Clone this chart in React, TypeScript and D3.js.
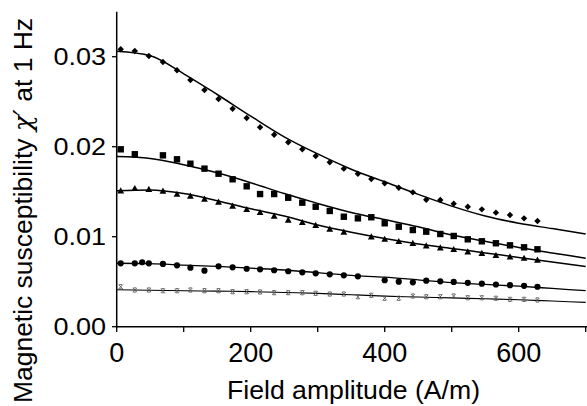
import React from "react";
import * as d3 from "d3";

// Field amplitudes (A/m) of measured points
const fields = [6, 27, 48, 69, 90, 110, 131, 152, 173, 194, 214, 235, 256, 277, 297, 318, 339, 360, 380, 400, 421, 442, 462, 483, 503, 524, 545, 566, 587, 608, 628];
const circleFields = [6, 27, 38, 48, 69, 90, 110, 131, 152, 173, 194, 214, 235, 256, 277, 297, 318, 339, 360, 400, 421, 442, 462, 483, 503, 524, 545, 566, 587, 608, 628];

const diamondVals = [0.03082, 0.03063, 0.03008, 0.02941, 0.02849, 0.02741, 0.0263, 0.0253, 0.02422, 0.02319, 0.02216, 0.02133, 0.02049, 0.01971, 0.01897, 0.01827, 0.01756, 0.017, 0.01641, 0.01593, 0.01544, 0.01493, 0.01411, 0.01408, 0.01367, 0.01333, 0.01304, 0.01267, 0.01241, 0.01204, 0.01174];
const squareVals = [0.01971, 0.01916, null, 0.01904, 0.0186, 0.01811, 0.01756, 0.017, 0.01638, 0.0156, 0.01474, 0.01474, 0.01433, 0.01378, 0.01333, 0.01286, 0.01222, 0.01204, 0.01216, 0.01149, 0.01111, 0.01074, 0.01056, 0.0103, 0.01008, 0.00971, 0.00949, 0.00927, 0.00904, 0.00882, 0.0086];
const triangleVals = [0.01511, 0.01538, 0.01527, 0.01508, 0.01474, 0.01452, 0.01419, 0.01386, 0.01341, 0.01304, 0.01271, 0.0123, 0.01186, 0.0116, 0.01127, 0.01086, 0.01052, null, 0.01, 0.00974, 0.00949, 0.00927, 0.009, 0.00878, 0.0086, 0.00833, 0.00816, 0.00793, 0.00778, 0.00763, 0.00741];
const circleVals = [0.00704, 0.00704, 0.00716, 0.00704, 0.00697, 0.00682, 0.00656, 0.00622, 0.00671, 0.0066, 0.00644, 0.00638, 0.00627, 0.00616, 0.00604, 0.00593, 0.00582, 0.00571, 0.0056, 0.00516, 0.005, 0.00493, 0.00511, 0.00504, 0.00497, 0.00487, 0.00478, 0.00469, 0.00461, 0.00454, 0.00444];
const crossVals = [0.00444, 0.00408, 0.00408, 0.004, 0.004, 0.00408, 0.004, 0.004, 0.00389, 0.00389, 0.00386, 0.00378, 0.00378, 0.00378, 0.00371, 0.00363, 0.00363, 0.00333, 0.00349, 0.00316, 0.00316, 0.00341, 0.00333, 0.00333, 0.00341, 0.00322, 0.00322, 0.00316, 0.00304, 0.00304, 0.00297];

// Fitted curves, read at these field values
const fitFields = [0, 50, 100, 150, 200, 250, 300, 350, 400, 450, 500, 550, 600, 650, 700];
const diamondFit = [0.0306, 0.0301, 0.0281, 0.0258, 0.0234, 0.0211, 0.0192, 0.0175, 0.0161, 0.0147, 0.0134, 0.0123, 0.0115, 0.0109, 0.0103];
const squareFit = [0.0189, 0.0187, 0.018, 0.0171, 0.016, 0.0148, 0.0137, 0.0127, 0.0119, 0.0111, 0.0102, 0.0095, 0.0088, 0.0082, 0.0076];
const triangleFit = [0.0151, 0.0152, 0.0148, 0.014, 0.0131, 0.0123, 0.0113, 0.0105, 0.0098, 0.0092, 0.0087, 0.0082, 0.0077, 0.0072, 0.0067];
const circleFit = [0.00705, 0.007, 0.00685, 0.0067, 0.0065, 0.0063, 0.006, 0.0057, 0.0055, 0.0052, 0.0049, 0.0047, 0.0045, 0.00425, 0.004];
const crossFit = [0.0041, 0.00405, 0.004, 0.00395, 0.0039, 0.0038, 0.0037, 0.00355, 0.0034, 0.0033, 0.0032, 0.0031, 0.003, 0.00285, 0.0027];

const xTicks = [0, 200, 400, 600];
const xMinorTicks = [0, 100, 200, 300, 400, 500, 600, 700];
const yTicks = [0, 0.01, 0.02, 0.03];

const W = 587;
const H = 406;
const FONT = "Liberation Sans, Arial, sans-serif";

type Shape = "diamond" | "square" | "triangle" | "circle" | "cross";

function Marker({ shape, cx, cy }: { shape: Shape; cx: number; cy: number }) {
  if (shape === "diamond") {
    const s = 3.2;
    return <path d={`M${cx},${cy - s}L${cx + s},${cy}L${cx},${cy + s}L${cx - s},${cy}Z`} fill="#000" />;
  }
  if (shape === "square") {
    const s = 3.2;
    return <rect x={cx - s} y={cy - s} width={2 * s} height={2 * s} fill="#000" />;
  }
  if (shape === "triangle") {
    const s = 3.4;
    return <path d={`M${cx},${cy - s}L${cx + s},${cy + s * 0.8}L${cx - s},${cy + s * 0.8}Z`} fill="#000" />;
  }
  if (shape === "circle") {
    return <circle cx={cx} cy={cy} r={3.1} fill="#000" />;
  }
  const s = 2.1;
  return (
    <path
      d={`M${cx - s},${cy - s}L${cx + s},${cy + s}M${cx + s},${cy - s}L${cx - s},${cy + s}M${cx - s * 0.7},${cy - s}L${cx + s * 0.7},${cy - s}M${cx - s * 0.7},${cy + s}L${cx + s * 0.7},${cy + s}`}
      stroke="#555"
      strokeWidth={0.9}
      fill="none"
    />
  );
}

export default function App() {
  const x = d3.scaleLinear().domain([0, 700]).range([116.7, 585.7]);
  const y = d3.scaleLinear().domain([0, 0.035]).range([326.7, 11.7]);
  const line = d3
    .line<[number, number]>()
    .x((d) => x(d[0]))
    .y((d) => y(d[1]))
    .curve(d3.curveMonotoneX);

  const series: { shape: Shape; xs: number[]; vals: (number | null)[]; fit: number[]; lw: number }[] = [
    { shape: "diamond", xs: fields, vals: diamondVals, fit: diamondFit, lw: 1.5 },
    { shape: "square", xs: fields, vals: squareVals, fit: squareFit, lw: 1.5 },
    { shape: "triangle", xs: fields, vals: triangleVals, fit: triangleFit, lw: 1.5 },
    { shape: "circle", xs: circleFields, vals: circleVals, fit: circleFit, lw: 1.3 },
    { shape: "cross", xs: fields, vals: crossVals, fit: crossFit, lw: 1.1 },
  ];

  return (
    <svg width={W} height={H} style={{ position: "absolute", left: 0, top: 0, background: "#fff" }}>
      {series.map((s, i) => (
        <g key={i}>
          <path
            d={line(fitFields.map((f, j) => [f, s.fit[j]] as [number, number])) || ""}
            fill="none"
            stroke="#000"
            strokeWidth={s.lw}
          />
          {s.vals.map((v, j) =>
            v == null ? null : <Marker key={j} shape={s.shape} cx={x(s.xs[j])} cy={y(v)} />
          )}
        </g>
      ))}
      {/* axes */}
      <line x1={116.7} y1={11.7} x2={116.7} y2={327.5} stroke="#000" strokeWidth={1.5} />
      <line x1={116} y1={326.7} x2={587} y2={326.7} stroke="#000" strokeWidth={1.5} />
      {yTicks.map((t) => (
        <g key={t}>
          <line x1={112} x2={116.7} y1={y(t)} y2={y(t)} stroke="#000" strokeWidth={1.3} />
          <text
            transform={`translate(106,${y(t)}) scale(1.15,1)`}
            dy="0.36em"
            textAnchor="end"
            fontFamily={FONT}
            fontSize={23.5}
            fill="#000"
          >
            {t.toFixed(2)}
          </text>
        </g>
      ))}
      {xMinorTicks.map((t) => (
        <line key={t} x1={x(t)} x2={x(t)} y1={326.7} y2={332} stroke="#000" strokeWidth={1.3} />
      ))}
      {xTicks.map((t) => (
        <text
          key={t}
          x={x(t)}
          y={361.5}
          textAnchor="middle"
          fontFamily={FONT}
          fontSize={27}
          fill="#000"
        >
          {t}
        </text>
      ))}
      <text
        x={353.5}
        y={399}
        textAnchor="middle"
        fontFamily={FONT}
        fontSize={26}
        fill="#000"
        textLength={253}
        lengthAdjust="spacingAndGlyphs"
      >
        Field amplitude (A/m)
      </text>
      <text
        transform="translate(32,210.5) rotate(-90)"
        textAnchor="middle"
        fontFamily={FONT}
        fontSize={26}
        fill="#000"
        textLength={385}
        lengthAdjust="spacingAndGlyphs"
      >
        Magnetic susceptibility <tspan fontFamily="DejaVu Serif, serif" fontStyle="italic">χ′</tspan> at 1 Hz
      </text>
    </svg>
  );
}
